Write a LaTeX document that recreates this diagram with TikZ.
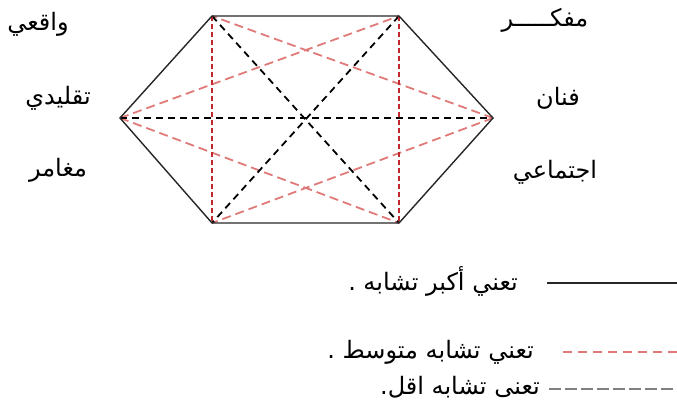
\documentclass[tikz,border=0pt]{standalone}
\usepackage{fontspec}
\TeXXeTstate=1
\newfontfamily\arabicfont[Script=Arabic]{DejaVu Sans}
\definecolor{darkred}{HTML}{C0282D}
\definecolor{lightred}{HTML}{E07A78}
\begin{document}
\begin{tikzpicture}[x=1pt,y=-1pt,
  lbl/.style={inner sep=0pt,font=\arabicfont\fontsize{24}{28}\selectfont},
  solidedge/.style={draw=black!85,line width=1.4pt},
  strong/.style={draw=darkred,line width=2pt,dash pattern=on 5pt off 3pt},
  medium/.style={draw=lightred,line width=1.8pt,dash pattern=on 9pt off 5pt},
  weak/.style={draw=black,line width=1.8pt,dash pattern=on 7pt off 5pt},
  weakleg/.style={draw=gray,line width=1.5pt,dash pattern=on 12pt off 4pt},
  medleg/.style={draw=lightred,line width=1.5pt,dash pattern=on 9pt off 6pt}]
\useasboundingbox (0,0) rectangle (677,402);
\coordinate (L) at (120,118);
\coordinate (TL) at (212,16);
\coordinate (TR) at (399,16);
\coordinate (R) at (493,118);
\coordinate (BR) at (399,223);
\coordinate (BL) at (212,223);
% medium similarity
\draw[medium] (L) -- (TR);
\draw[medium] (L) -- (BR);
\draw[medium] (R) -- (TL);
\draw[medium] (R) -- (BL);
% weak similarity
\draw[weak] (L) -- (R);
\draw[weak] (TL) -- (BR);
\draw[weak] (TR) -- (BL);
% verticals
\draw[strong] (TL) -- (BL);
\draw[strong] (TR) -- (BR);
% hexagon
\draw[solidedge] (L) -- (TL) -- (TR) -- (R) -- (BR) -- (BL) -- cycle;
% labels
\node[lbl] (w) at (38,24) {\beginR واقعي\endR};
\node[lbl] (m) at (545,20) {\beginR مفكـــــر\endR};
\node[lbl] (t) at (58,98) {\beginR تقليدي\endR};
\node[lbl] (f) at (558,98) {\beginR فنان\endR};
\node[lbl] (g) at (58,170) {\beginR مغامر\endR};
\node[lbl] (e) at (555,172) {\beginR اجتماعي\endR};
% legend
\coordinate (a1) at (547,283);
\coordinate (a2) at (677,283);
\draw[solidedge] (a1) -- (a2);
\node[lbl,anchor=east] (la) at (518,281) {\beginR تعني أكبر تشابه .\endR};
\coordinate (b1) at (563,352);
\coordinate (b2) at (677,352);
\draw[medleg] (b1) -- (b2);
\node[lbl,anchor=east] (lb) at (534,352) {\beginR تعني تشابه متوسط .\endR};
\coordinate (c1) at (549,389);
\coordinate (c2) at (677,389);
\draw[weakleg] (c1) -- (c2);
\node[lbl,anchor=east] (lc) at (540,387) {\beginR تعنى تشابه اقل.\endR};
\end{tikzpicture}
\end{document}
